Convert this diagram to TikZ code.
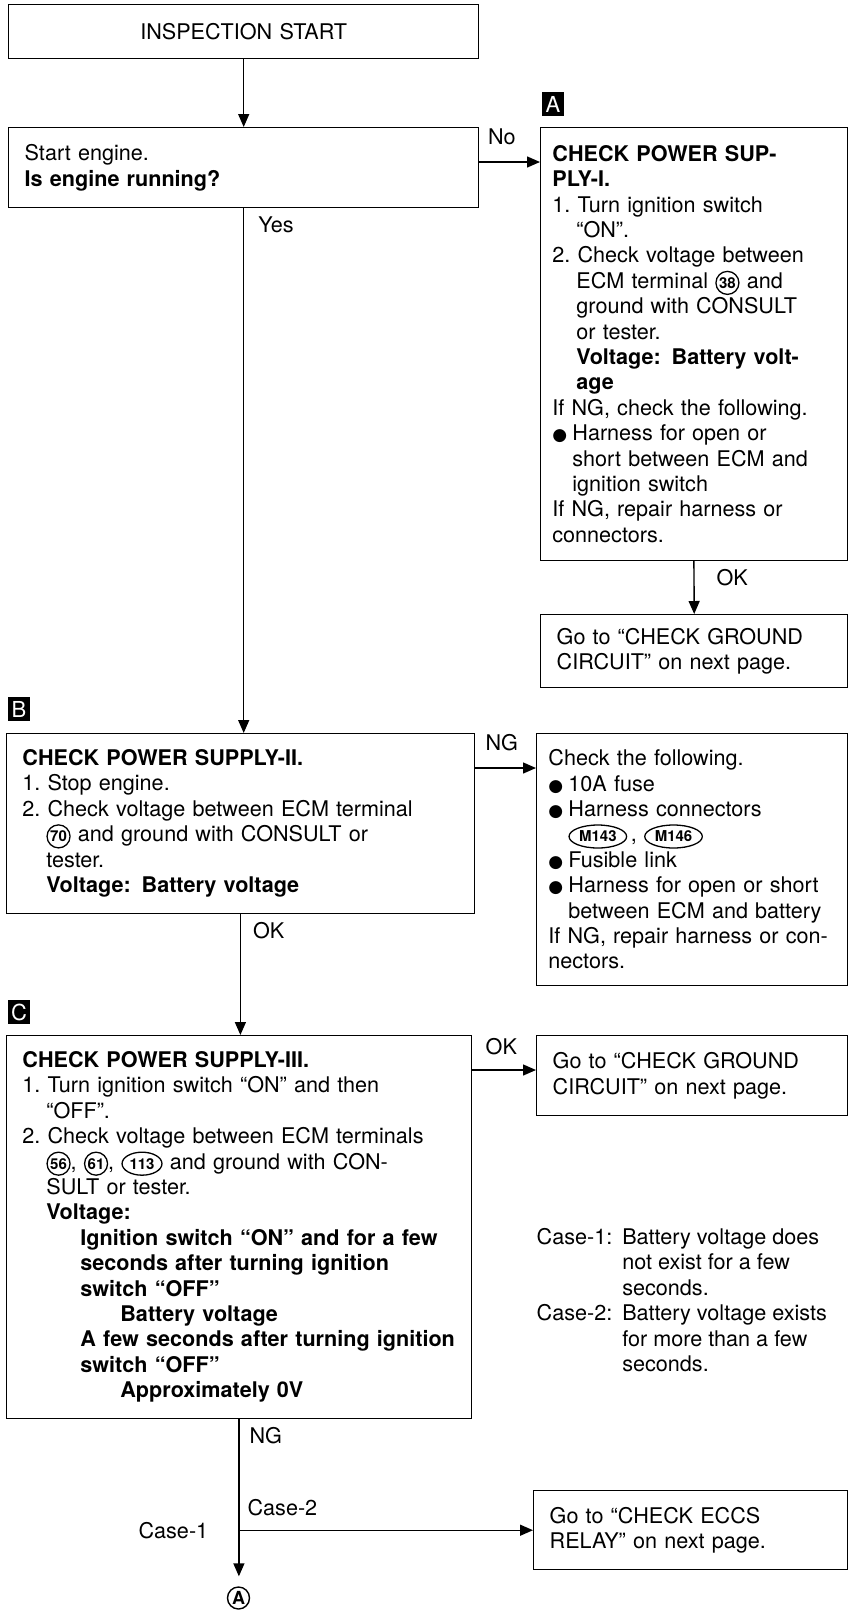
\documentclass[tikz,border=0pt]{standalone}
\usepackage{fontspec}
\setmainfont{TeX Gyre Heros}
\newfontfamily\bulletfont{DejaVu Sans}
\usetikzlibrary{arrows.meta,positioning,calc,shapes.geometric}

% circled terminal numbers and connector ovals
\newcommand{\term}[1]{\tikz[baseline=(tn.base)]\node[draw,circle,line width=0.65pt,inner sep=0.5pt,minimum size=11.5pt,font=\fontsize{7.5}{7.5}\selectfont\bfseries] (tn) {#1};}
\newcommand{\conn}[1]{\tikz[baseline=(tn.base)]\node[draw,ellipse,line width=0.65pt,inner xsep=0.8pt,inner ysep=0.5pt,minimum height=11.5pt,font=\fontsize{7.5}{7.5}\selectfont\bfseries] (tn) {#1};}
\newcommand{\blt}{\makebox[10pt][l]{\bulletfont\fontsize{8.5}{8.5}\selectfont ●}}
\newcommand{\indA}{\hspace*{12pt}}
\newcommand{\indB}{\hspace*{10pt}}
\newcommand{\indC}{\hspace*{29pt}}
\newcommand{\indD}{\hspace*{49pt}}

\begin{document}
\begin{tikzpicture}[x=0.5pt,y=-0.5pt,line width=0.7pt,
  flowbox/.style={draw, rectangle, anchor=north west, inner xsep=8pt, inner ysep=0pt, align=left, font=\fontsize{10.8}{12.7}\selectfont},
  arr/.style={-{Triangle[length=6.5pt,width=5.5pt]}},
  lbl/.style={font=\fontsize{10.8}{12.7}\selectfont, inner sep=2pt},
  letterbox/.style={fill=black, text=white, minimum width=11pt, minimum height=12pt, inner sep=0pt, font=\fontsize{11}{11}\selectfont}]

  \useasboundingbox (0,0) rectangle (849,1612);

  % Start and engine check
  \node[flowbox, align=center, text width=219pt, minimum height=27pt] (start) at (8,4) {INSPECTION START};
  \node[flowbox, text width=219pt, minimum height=40pt] (run) at (8,127) {Start engine.\\\textbf{Is engine running?}};

  % A: power supply I
  \node[letterbox] (tagA) at (553,104) {A};
  \node[flowbox, inner xsep=6pt, text width=141.5pt, minimum height=216.5pt] (boxA) at (540,127) {%
    \textbf{CHECK POWER SUP-}\\
    \textbf{PLY-I.}\\
    1.~Turn ignition switch\\
    \indA“ON”.\\
    2.~Check voltage between\\
    \indA ECM terminal \term{38} and\\
    \indA ground with CONSULT\\
    \indA or tester.\\
    \indA\textbf{Voltage: Battery volt-}\\
    \indA\textbf{age}\\
    If NG, check the following.\\
    \blt Harness for open or\\
    \indB short between ECM and\\
    \indB ignition switch\\
    If NG, repair harness or\\
    connectors.};
  \node[flowbox, text width=137.5pt, minimum height=36.5pt] (gndA) at (540,614) {Go to “CHECK GROUND\\CIRCUIT” on next page.};

  % B: power supply II
  \node[letterbox] (tagB) at (19,709) {B};
  \node[flowbox, text width=218pt, minimum height=90pt] (boxB) at (6,733) {%
    \textbf{CHECK POWER SUPPLY-II.}\\
    1.~Stop engine.\\
    2.~Check voltage between ECM terminal\\
    \indA\term{70} and ground with CONSULT or\\
    \indA tester.\\
    \indA\textbf{Voltage: Battery voltage}};
  \node[flowbox, inner xsep=6pt, text width=143.5pt, minimum height=126pt] (chkB) at (536,733) {%
    Check the following.\\
    \blt 10A fuse\\
    \blt Harness connectors\\
    \indB\conn{M143}\,,\ \conn{M146}\\
    \blt Fusible link\\
    \blt Harness for open or short\\
    \indB between ECM and battery\\
    If NG, repair harness or con-\\
    nectors.};

  % C: power supply III
  \node[letterbox] (tagC) at (19,1012) {C};
  \node[flowbox, text width=216.5pt, minimum height=191.5pt] (boxC) at (6,1035) {%
    \textbf{CHECK POWER SUPPLY-III.}\\
    1.~Turn ignition switch “ON” and then\\
    \indA“OFF”.\\
    2.~Check voltage between ECM terminals\\
    \indA\term{56}, \term{61}, \conn{113} and ground with CON-\\
    \indA SULT or tester.\\
    \indA\textbf{Voltage:}\\
    \indC\textbf{Ignition switch “ON” and for a few}\\
    \indC\textbf{seconds after turning ignition}\\
    \indC\textbf{switch “OFF”}\\
    \indD\textbf{Battery voltage}\\
    \indC\textbf{A few seconds after turning ignition}\\
    \indC\textbf{switch “OFF”}\\
    \indD\textbf{Approximately 0V}};
  \node[flowbox, text width=139.5pt, minimum height=40pt] (gndC) at (536,1035) {Go to “CHECK GROUND\\CIRCUIT” on next page.};
  \node[lbl, anchor=north west] (casenote) at (532,1222) {%
    \begin{tabular}[t]{@{}l@{\hspace{5pt}}l@{}}
      Case-1: & Battery voltage does\\
              & not exist for a few\\
              & seconds.\\
      Case-2: & Battery voltage exists\\
              & for more than a few\\
              & seconds.
    \end{tabular}};
  \node[flowbox, text width=141pt, minimum height=39.5pt] (eccs) at (533,1490) {Go to “CHECK ECCS\\RELAY” on next page.};
  \node[draw, circle, minimum size=11pt, inner sep=0pt, font=\fontsize{9}{9}\selectfont\bfseries] (circA) at (238.5,1598) {A};

  % Connectors
  \draw[arr] (start.south) -- (start.south |- run.north);
  \coordinate (noA) at ($(run.north east)+(0,35)$);
  \draw[arr] (noA) -- (noA -| boxA.west) node[lbl, pos=0.37, above=6pt] {No};
  \draw[arr] (run.south) -- (run.south |- boxB.north) node[lbl, at start, anchor=north west, xshift=5pt, yshift=-2pt] {Yes};
  \draw[arr] (boxA.south) -- (gndA.north) node[lbl, at start, anchor=north west, xshift=9pt, yshift=-2pt] {OK};

  \coordinate (ngB) at ($(boxB.north east)+(0,35)$);
  \draw[arr] (ngB) -- (ngB -| chkB.west) node[lbl, pos=0.44, above=6pt] {NG};
  \draw[arr] (boxB.south) -- (boxB.south |- boxC.north) node[lbl, at start, anchor=north west, xshift=4pt, yshift=-2pt] {OK};

  \coordinate (okC) at ($(boxC.north east)+(0,35)$);
  \draw[arr] (okC) -- (okC -| gndC.west) node[lbl, pos=0.46, above=5pt] {OK};

  \coordinate (split) at (boxC.south |- eccs.west);
  \draw[arr, shorten >=5pt] (boxC.south) -- (boxC.south |- circA.north) node[lbl, at start, anchor=north west, xshift=3pt, yshift=-2pt] {NG};
  \draw[arr] (split) -- (eccs.west) node[lbl, at start, anchor=south west, xshift=2pt, yshift=5pt] {Case-2};
  \node[lbl, left=13pt] (case1) at (split) {Case-1};
\end{tikzpicture}
\end{document}
